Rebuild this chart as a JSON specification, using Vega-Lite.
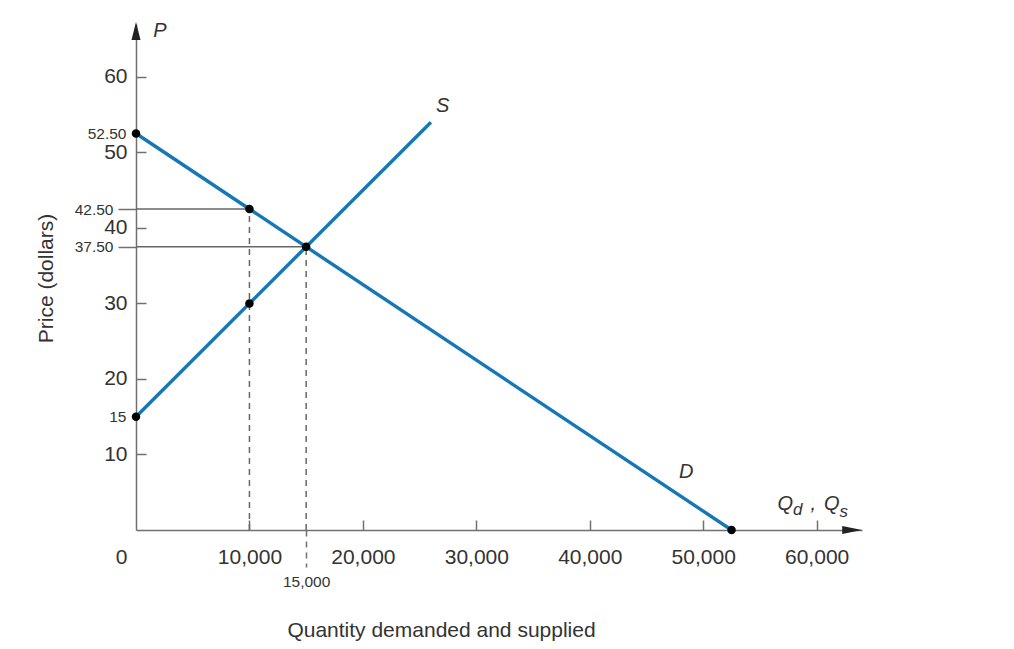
{
  "$schema": "https://vega.github.io/schema/vega-lite/v6.json",
  "width": 726,
  "height": 506,
  "autosize": "none",
  "padding": {"left": 136, "top": 24, "right": 152, "bottom": 119},
  "background": "white",
  "config": {"view": {"stroke": null}, "font": "Liberation Sans"},
  "datasets": {
    "curves": [
      {"curve": "D", "q": 0, "p": 52.5},
      {"curve": "D", "q": 52500, "p": 0},
      {"curve": "S", "q": 0, "p": 15},
      {"curve": "S", "q": 26000, "p": 54}
    ],
    "points": [
      {"q": 0, "p": 52.5},
      {"q": 10000, "p": 42.5},
      {"q": 15000, "p": 37.5},
      {"q": 10000, "p": 30},
      {"q": 0, "p": 15},
      {"q": 52500, "p": 0}
    ],
    "hguides": [
      {"q": 0, "q2": 10000, "p": 42.5},
      {"q": 0, "q2": 15000, "p": 37.5}
    ],
    "vguides": [
      {"q": 10000, "p": 0, "p2": 42.5},
      {"q": 15000, "p": 0, "p2": 37.5}
    ],
    "labels": [
      {"t": "P", "q": 2116, "p": 66.1},
      {"t": "S", "q": 27028, "p": 56.2},
      {"t": "D", "q": 48500, "p": 7.7},
      {"t": "Q", "q": 57231, "p": 3.44},
      {"t": ",", "q": 59700, "p": 3.44},
      {"t": "Q", "q": 61332, "p": 3.44}
    ],
    "subs": [
      {"t": "d", "q": 58333, "p": 2.65},
      {"t": "s", "q": 62390, "p": 2.38}
    ],
    "xarrow": [{"q": 64000, "p": 0}],
    "yarrow": [{"q": 0, "p": 67.27}]
  },
  "encoding": {
    "x": {
      "field": "q",
      "type": "quantitative",
      "scale": {"domain": [0, 64000], "nice": false, "zero": false},
      "axis": {
        "values": [0, 10000, 15000, 20000, 30000, 40000, 50000, 60000],
        "labelExpr": "datum.value == 0 ? '0' : format(datum.value, ',')",
        "grid": false,
        "domainColor": "#707070",
        "domainWidth": 1.5,
        "tickColor": "#707070",
        "tickWidth": 1.5,
        "tickSize": {"expr": "datum.value == 15000 ? 37 : (datum.value == 0 ? 0 : -10)"},
        "tickOpacity": {"expr": "datum.value == 0 ? 0 : 1"},
        "tickDash": {"expr": "datum.value == 15000 ? [6, 5] : []"},
        "labelFontSize": {"expr": "datum.value == 15000 ? 15.5 : 21"},
        "labelPadding": {"expr": "datum.value == 15000 ? 7 : (datum.value == 0 ? 16 : 26)"},
        "labelOffset": {"expr": "datum.value == 0 ? -15 : 0"},
        "labelColor": "#333333",
        "labelFont": "Liberation Sans",
        "labelOverlap": false,
        "labelFlush": false,
        "labelBound": false,
        "title": "Quantity demanded and supplied",
        "titleFont": "Liberation Sans",
        "titleFontSize": 21,
        "titleFontWeight": "normal",
        "titleColor": "#333333",
        "titleX": 305,
        "titleY": 106,
        "titleBaseline": "alphabetic",
        "titleAlign": "center"
      }
    },
    "y": {
      "field": "p",
      "type": "quantitative",
      "scale": {"domain": [0, 67], "nice": false, "zero": false},
      "axis": {
        "values": [10, 15, 20, 30, 37.5, 40, 42.5, 50, 52.5, 60],
        "labelExpr": "(datum.value == 52.5 || datum.value == 42.5 || datum.value == 37.5) ? format(datum.value, '.2f') : format(datum.value, 'd')",
        "grid": false,
        "domainColor": "#707070",
        "domainWidth": 1.5,
        "tickColor": "#707070",
        "tickWidth": 1.5,
        "tickSize": {"expr": "(datum.value == 42.5 || datum.value == 37.5) ? 18 : ((datum.value == 52.5 || datum.value == 15) ? 0 : -10)"},
        "tickOpacity": {"expr": "(datum.value == 52.5 || datum.value == 15) ? 0 : 1"},
        "labelPadding": {"expr": "(datum.value == 42.5 || datum.value == 37.5) ? 5 : ((datum.value == 52.5 || datum.value == 15) ? 10 : 19)"},
        "labelFontSize": {"expr": "(datum.value == 52.5 || datum.value == 42.5 || datum.value == 37.5 || datum.value == 15) ? 15.5 : 21"},
        "labelColor": "#333333",
        "labelFont": "Liberation Sans",
        "labelOverlap": false,
        "labelFlush": false,
        "labelBound": false,
        "title": "Price (dollars)",
        "titleFont": "Liberation Sans",
        "titleFontSize": 21,
        "titleFontWeight": "normal",
        "titleColor": "#333333",
        "titleX": -90,
        "titleY": 254,
        "titleAngle": 270,
        "titleBaseline": "middle",
        "titleAlign": "center"
      }
    }
  },
  "layer": [
    {
      "data": {"name": "hguides"},
      "mark": {"type": "rule", "color": "#666666", "strokeWidth": 1.5},
      "encoding": {"x2": {"field": "q2"}}
    },
    {
      "data": {"name": "vguides"},
      "mark": {"type": "rule", "color": "#666666", "strokeWidth": 1.5, "strokeDash": [6, 5]},
      "encoding": {"y2": {"field": "p2"}}
    },
    {
      "data": {"name": "curves"},
      "mark": {"type": "line", "color": "#1777b6", "strokeWidth": 3.4},
      "encoding": {"detail": {"field": "curve"}}
    },
    {
      "data": {"name": "points"},
      "mark": {"type": "point", "shape": "circle", "filled": true, "color": "#000000", "size": 72, "opacity": 1},
      "encoding": {}
    },
    {
      "data": {"name": "xarrow"},
      "mark": {"type": "point", "shape": "M 0 0 L -2.2 -0.45 L -2.2 0.45 Z", "filled": true, "color": "#222222", "size": 324, "opacity": 1},
      "encoding": {}
    },
    {
      "data": {"name": "yarrow"},
      "mark": {"type": "point", "shape": "M 0 0 L 0.5 2 L -0.5 2 Z", "filled": true, "color": "#222222", "size": 324, "opacity": 1},
      "encoding": {}
    },
    {
      "data": {"name": "labels"},
      "mark": {"type": "text", "font": "Liberation Sans", "fontSize": 20, "fontStyle": "italic", "color": "#333333", "align": "center", "baseline": "middle"},
      "encoding": {"text": {"field": "t"}}
    },
    {
      "data": {"name": "subs"},
      "mark": {"type": "text", "font": "Liberation Sans", "fontSize": 17, "fontStyle": "italic", "color": "#333333", "align": "center", "baseline": "middle"},
      "encoding": {"text": {"field": "t"}}
    }
  ]
}
